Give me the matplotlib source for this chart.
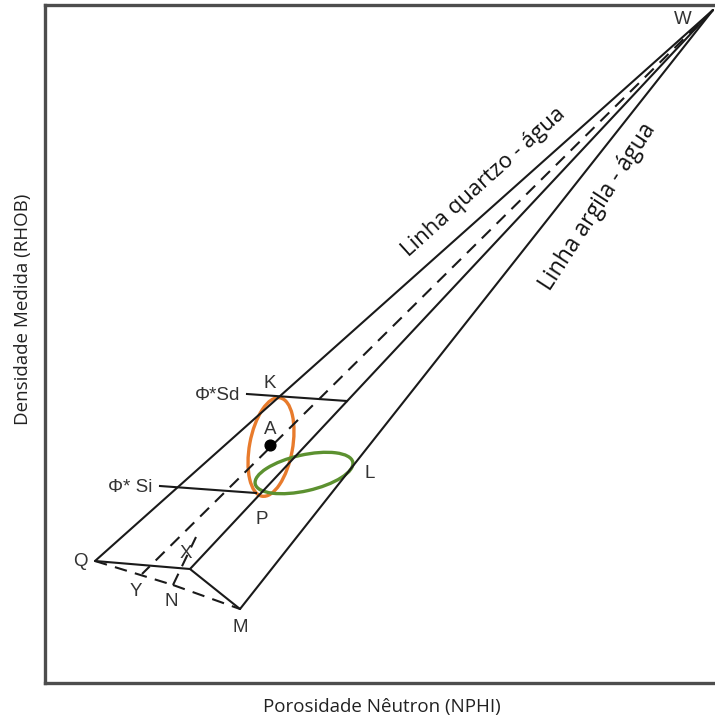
import matplotlib
matplotlib.use("Agg")
import matplotlib.pyplot as plt
from matplotlib.patches import Ellipse

# Diagram nodes (pixel-like coordinates, y grows downward)
node = ['W', 'Q', 'C', 'M', 'N', 'Y', 'T']
node_x = [713, 95, 190, 240, 173, 142, 196]
node_y = [10, 561, 569, 609, 585, 574, 537]

solid_edges = [('W', 'Q'), ('W', 'C'), ('W', 'M'), ('Q', 'C'), ('C', 'M')]
dashed_edges = [('W', 'Y'), ('Q', 'N'), ('N', 'M'), ('N', 'T')]

# porosity lines (start, end)
phi_sd_x = [247, 347]
phi_sd_y = [394, 401]
phi_si_x = [160, 256]
phi_si_y = [486, 493]

# point A
a_x = [270]
a_y = [445]

# ellipses: center, width, height, angle
orange_ell = (271, 447, 43, 100, 10.4)
green_ell = (304, 473, 100, 36, -12.7)

# point labels
lab_text = ['W', 'Q', 'M', 'N', 'Y', 'X', 'K', 'P', 'L', 'A', 'Φ*Sd', 'Φ* Si']
lab_x = [683, 80, 240, 171, 136, 186, 270, 262, 370, 270, 218, 130]
lab_y = [20, 562, 627, 601, 592, 553, 384, 520, 473, 430, 395, 488]

pos = dict(zip(node, zip(node_x, node_y)))

fig = plt.figure(figsize=(7.15, 7.21), dpi=100)
ax = fig.add_axes([45 / 715, (721 - 683) / 721, (715 - 45) / 715, (683 - 5) / 721])
ax.set_xlim(45, 715)
ax.set_ylim(683, 5)
ax.set_xticks([])
ax.set_yticks([])
ax.spines['right'].set_visible(False)
for s in ['left', 'top', 'bottom']:
    ax.spines[s].set_color('#4d4d4d')
    ax.spines[s].set_linewidth(2.4)

for a, b in solid_edges:
    ax.plot([pos[a][0], pos[b][0]], [pos[a][1], pos[b][1]],
            color='#1a1a1a', lw=1.5, solid_capstyle='round')
for a, b in dashed_edges:
    ax.plot([pos[a][0], pos[b][0]], [pos[a][1], pos[b][1]],
            color='#1a1a1a', lw=1.5, dashes=(6, 4))

ax.plot(phi_sd_x, phi_sd_y, color='#1a1a1a', lw=1.5)
ax.plot(phi_si_x, phi_si_y, color='#1a1a1a', lw=1.5)

cx, cy, w, h, ang = orange_ell
ax.add_patch(Ellipse((cx, cy), w, h, angle=ang, fill=False,
                     edgecolor='#E87B2C', lw=2.4))
cx, cy, w, h, ang = green_ell
ax.add_patch(Ellipse((cx, cy), w, h, angle=ang, fill=False,
                     edgecolor='#5C9130', lw=2.4))

ax.scatter(a_x, a_y, s=60, color='black', zorder=5)

for t, x, y in zip(lab_text, lab_x, lab_y):
    ax.text(x, y, t, ha='center', va='center', fontsize=13.5,
            family='Liberation Sans', color='#333333')

ax.text(484, 182, 'Linha quartzo - água', rotation=42, ha='center', va='center',
        fontsize=16, family='Open Sans', color='#111111', rotation_mode='anchor')
ax.text(598, 207, 'Linha argila - água', rotation=57, ha='center', va='center',
        fontsize=16.5, family='Open Sans', color='#111111', rotation_mode='anchor')

fig.text(382 / 715, 1 - 707 / 721, 'Porosidade Nêutron (NPHI)', ha='center', va='center',
         fontsize=13.5, family='Open Sans', color='#222222')
fig.text(23 / 715, 1 - 309 / 721, 'Densidade Medida (RHOB)', ha='center', va='center',
         rotation=90, fontsize=13.5, family='Open Sans', color='#222222')

fig.savefig('out.png', dpi=100)
